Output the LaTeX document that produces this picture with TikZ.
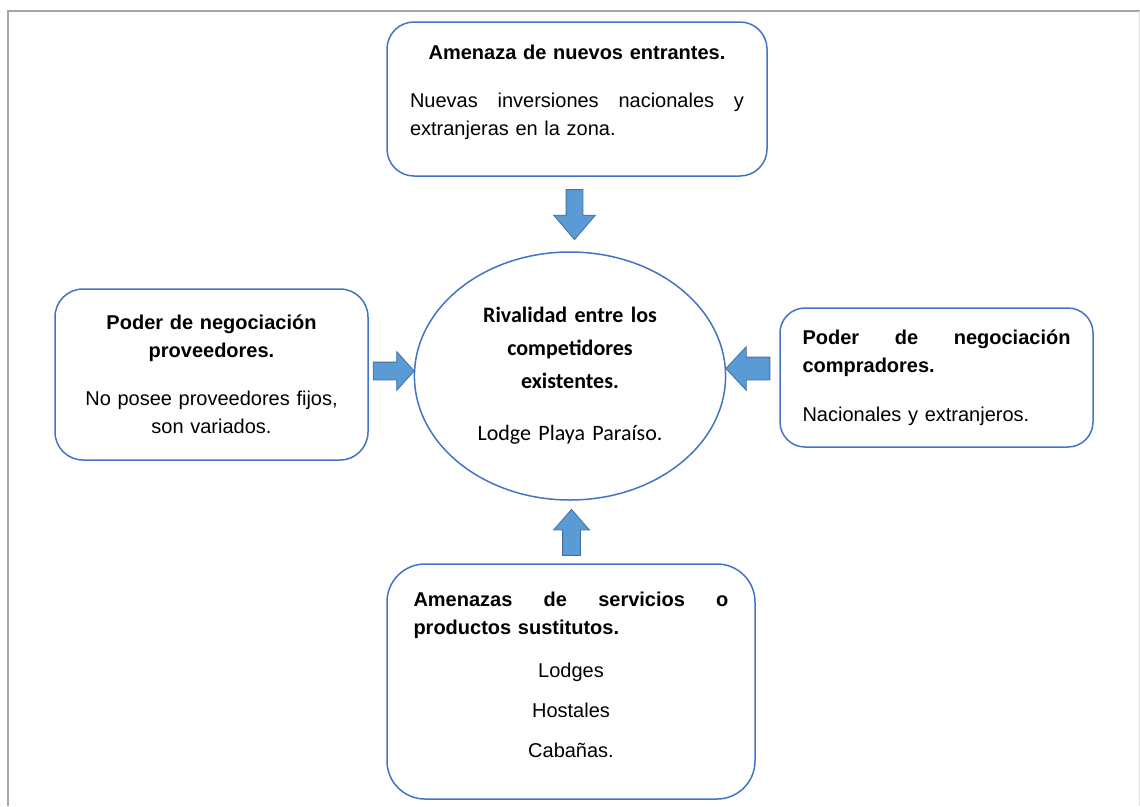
\documentclass[tikz,border=0pt]{standalone}
\usepackage{fontspec}
\setmainfont{Liberation Sans}
\newfontfamily\carlito{Carlito}
\usepackage{xcolor}
\usetikzlibrary{arrows.meta, positioning, calc, shapes.geometric, shapes.arrows}
\definecolor{boxblue}{RGB}{68, 114, 196}
\definecolor{arrowblue}{RGB}{91, 155, 213}
\definecolor{arrowedge}{RGB}{65, 113, 156}
\definecolor{framegray}{RGB}{166, 166, 166}

\begin{document}
\begin{tikzpicture}[x=1pt, y=-1pt,
    fuerza/.style={draw=boxblue, line width=1.5pt, inner sep=0pt,
        font=\fontsize{20}{28}\selectfont},
    bigarrow/.style={single arrow, draw=arrowedge, fill=arrowblue,
        line width=0.8pt, minimum width=0pt, anchor=tip}]
    \useasboundingbox (0,0) rectangle (1140,806);
    % marco
    \draw[framegray, line width=2pt] (8,806) -- (8,11) -- (1140,11);
    \draw[black!12, line width=1pt] (1139,11) -- (1139,806);

    % las cinco fuerzas
    \node[draw=boxblue, line width=1.5pt, ellipse, inner sep=0pt,
        minimum width=306pt, minimum height=248pt, text width=220pt, align=center,
        font=\carlito\fontsize{22}{33}\selectfont] (rival) at (570,376)
        {{\bfseries Rivalidad entre los\\competidores\\existentes.}\\[19pt]
         Lodge Playa Paraíso.};
    \node[fuerza, rounded corners=27pt, minimum width=380pt, minimum height=154pt,
        text width=334pt, align=left] (entrantes) at (577,99)
        {{\centering\bfseries Amenaza de nuevos entrantes.\par}\vspace{20pt}
         Nuevas\hfill inversiones\hfill nacionales\hfill y\\
         extranjeras en la zona.\rule[-17.6pt]{0pt}{0pt}};
    \node[fuerza, rounded corners=28pt, minimum width=313pt, minimum height=171pt,
        text width=290pt, align=center] (proveedores) at (211.5,374.5)
        {{\bfseries Poder de negociación\\proveedores.}\\[20pt]
         No posee proveedores fijos,\\son variados.};
    \node[fuerza, rounded corners=25pt, minimum width=313pt, minimum height=139pt,
        text width=268pt, align=left] (compradores) at (936.5,377.5)
        {{\bfseries Poder\hfill de\hfill negociación\\compradores.}\\[21pt]
         Nacionales y extranjeros.};
    \node[fuerza, rounded corners=38pt, minimum width=368pt, minimum height=235pt,
        text width=315pt, align=left] (sustitutos) at (571,681.5)
        {{\bfseries Amenazas\hfill de\hfill servicios\hfill o\\productos sustitutos.\par}
         \vspace{15pt}
         {\centering Lodges\\[12pt] Hostales\\[12pt] Cabañas.\rule[-12.6pt]{0pt}{0pt}\par}};

    % flechas
    \node[bigarrow, rotate=-90, minimum height=50pt, inner sep=8pt,
        single arrow head extend=12.5pt, single arrow tip angle=81]
        (flecha1) at ([xshift=4.5pt, yshift=11pt]rival.north) {};
    \node[bigarrow, rotate=90, minimum height=46pt, inner sep=8.5pt,
        single arrow head extend=9pt, single arrow tip angle=82]
        (flecha2) at ([xshift=1.5pt, yshift=-8pt]rival.south) {};
    \node[bigarrow, minimum height=41pt, inner sep=8.5pt,
        single arrow head extend=10.5pt, single arrow tip angle=96]
        (flecha3) at ([xshift=1pt, yshift=5pt]rival.west) {};
    \node[bigarrow, rotate=180, minimum height=44pt, inner sep=11pt,
        single arrow head extend=10.5pt, single arrow tip angle=94]
        (flecha4) at ([xshift=-1pt, yshift=7.5pt]rival.east) {};
\end{tikzpicture}
\end{document}
